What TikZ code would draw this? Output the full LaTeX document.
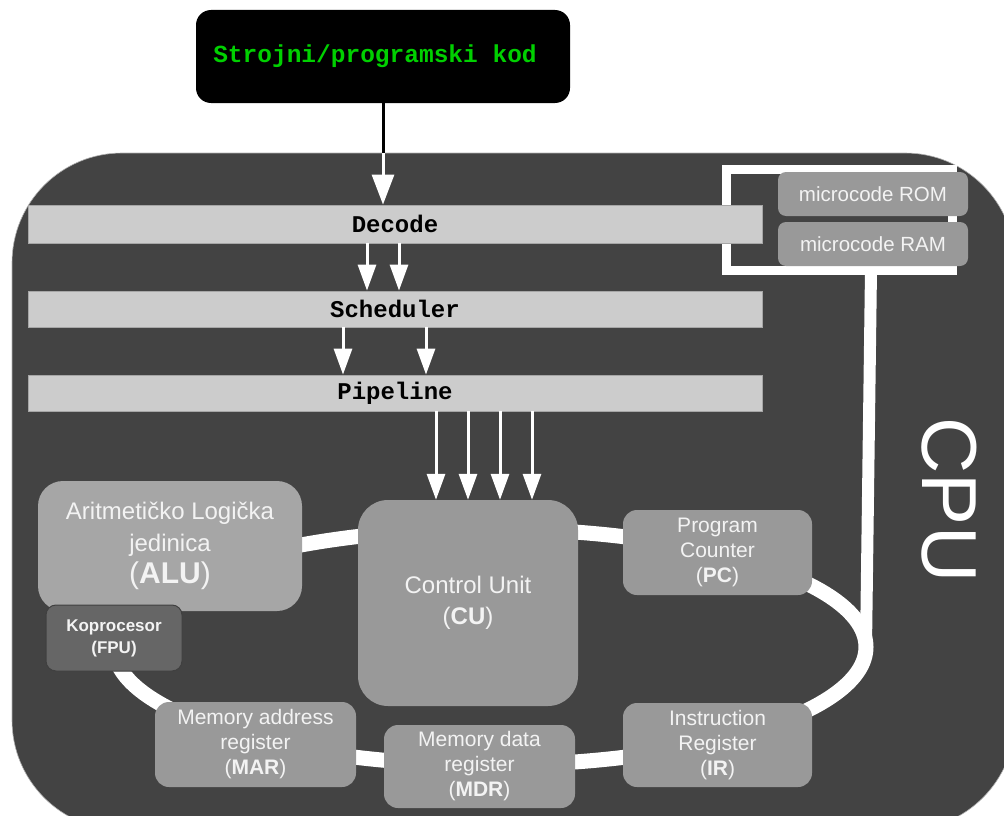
\documentclass[tikz,border=0pt]{standalone}
\usepackage{fontspec}
\setmainfont{Liberation Sans}
\newfontfamily\codefont{Liberation Mono}
\usetikzlibrary{arrows.meta}
\definecolor{cpubg}{HTML}{434343}
\definecolor{barfill}{HTML}{CCCCCC}
\definecolor{boxfill}{HTML}{999999}
\definecolor{alufill}{HTML}{A6A6A6}
\definecolor{fpufill}{HTML}{666666}
\definecolor{labeltext}{HTML}{F3F3F3}
\definecolor{codegreen}{HTML}{00D000}

\begin{document}
\begin{tikzpicture}[x=1pt,y=-1pt,
  stage/.style={fill=barfill, draw=gray!70, line width=0.8pt, minimum width=734pt,
    minimum height=36pt, inner sep=0pt, font=\codefont\bfseries\fontsize{24}{24}\selectfont},
  unit/.style={fill=boxfill, rounded corners=14pt, text=labeltext, align=center,
    inner sep=0pt, font=\fontsize{21}{25}\selectfont},
  flow/.style={white, line width=3pt, -{Triangle[width=18pt,length=26pt]}},
  bus/.style={white, line width=15pt},
]
\useasboundingbox (0,0) rectangle (1004,816);
\clip (0,0) rectangle (1004,816);
% cpu body
\fill[cpubg, draw=gray!60, line width=0.6pt, rounded corners=110pt] (12,153) rectangle (1015,830);
% internal bus ring and microcode frame
\draw[bus] (490,647) ellipse [x radius=376, y radius=118];
\draw[white, line width=9pt] (726,169) rectangle (952,270);
\coordinate (mcbottom) at (871,270);
\coordinate (busright) at (866,647);
\draw[white, line width=12pt] (mcbottom) -- (busright);
% machine code source
\node[fill=black, rounded corners=15pt, minimum width=374pt, minimum height=93pt,
  text=codegreen, font=\codefont\bfseries\fontsize{24.5}{24}\selectfont] (code) at (383,56.5)
  {\raisebox{-4pt}{Strojni/programski kod}\kern16pt};
% front end stages
\node[stage, minimum height=38pt] (decode) at (395,224) {\raisebox{-2pt}{Decode}};
\node[stage] (sched) at (395,309) {\raisebox{-1pt}{Scheduler}};
\node[stage] (pipe) at (395,393) {\raisebox{-1pt}{Pipeline}};
% microcode store
\node[unit, rounded corners=8pt, minimum width=190pt, minimum height=44pt,
  font=\fontsize{20.5}{20}\selectfont] (rom) at (873,194) {microcode ROM};
\node[unit, rounded corners=8pt, minimum width=190pt, minimum height=44pt,
  font=\fontsize{20.5}{20}\selectfont] (ram) at (873,244) {microcode RAM};
% execution units and registers
\node[unit, fill=alufill, rounded corners=25pt, minimum width=264pt, minimum height=130pt,
  font=\fontsize{24}{32}\selectfont] (alu) at (170,546)
  {Aritmetičko Logička\\jedinica\\{\fontsize{30}{32}\selectfont(\textbf{ALU})}};
\node[unit, fill=fpufill, draw=black!75, line width=1pt, rounded corners=10pt,
  minimum width=136pt, minimum height=66pt, font=\bfseries\fontsize{17}{22}\selectfont] (fpu) at (114,638)
  {Koprocesor\\(FPU)};
\node[unit, rounded corners=30pt, minimum width=220pt, minimum height=206pt,
  font=\fontsize{24}{31}\selectfont] (cu) at (468,603) {Control Unit\\(\textbf{CU})};
\node[unit, minimum width=189pt, minimum height=85pt] (pc) at (717.5,552.5)
  {Program\\Counter\\(\textbf{PC})};
\node[unit, minimum width=189pt, minimum height=84pt] (ir) at (717.5,745)
  {Instruction\\Register\\(\textbf{IR})};
\node[unit, minimum width=191pt, minimum height=83pt] (mdr) at (479.5,766.5)
  {Memory data\\register\\(\textbf{MDR})};
\node[unit, minimum width=201pt, minimum height=85pt] (mar) at (255.5,744.5)
  {Memory address\\register\\(\textbf{MAR})};
% label
\node[rotate=-90, text=white, font=\fontsize{78}{78}\selectfont] (cpulabel) at (949,500) {CPU};
% instruction flow
\coordinate (cputop) at (383,153);
\draw[black, line width=3pt] (code.south) -- (cputop);
\draw[flow, -{Triangle[width=22pt,length=30pt]}] (cputop) -- (decode.north -| cputop);
\foreach \dx in {-28,4}
  \draw[flow] ([xshift=\dx pt]decode.south) -- ([xshift=\dx pt]sched.north);
\foreach \dx in {-52,31}
  \draw[flow] ([xshift=\dx pt]sched.south) -- ([xshift=\dx pt]pipe.north);
\foreach \dx in {-32,0,32,64}
  \draw[flow] ([xshift=\dx pt]cu.north |- pipe.south) -- ([xshift=\dx pt]cu.north);
\end{tikzpicture}
\end{document}
